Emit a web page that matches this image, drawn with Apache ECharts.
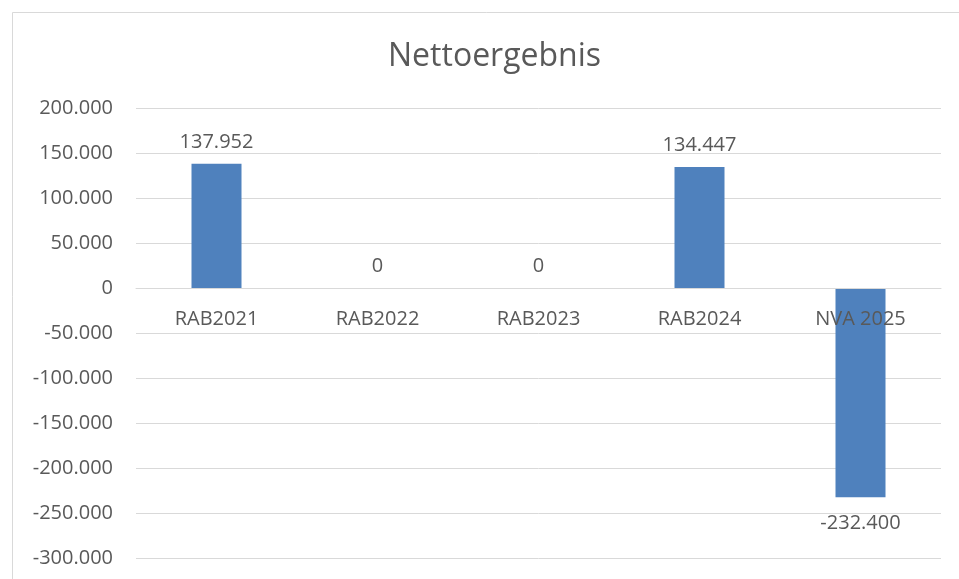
<!DOCTYPE html>
<html>
<head>
<meta charset="utf-8">
<script src="https://cdn.jsdelivr.net/npm/echarts@6/dist/echarts.min.js"></script>
<style>html,body{margin:0;padding:0;background:#fff}#c{width:959px;height:579px}</style>
</head>
<body>
<div id="c"></div>
<script>
var categories = ['RAB2021', 'RAB2022', 'RAB2023', 'RAB2024', 'NVA 2025'];
var values = [137952, 0, 0, 134447, -232400];
var yTicks = { min: -300000, max: 200000, interval: 50000 };

function fmt(v) {
  var s = Math.abs(Math.round(v)).toString().replace(/\B(?=(\d{3})+(?!\d))/g, '.');
  return (v < 0 ? '-' : '') + s;
}

var FONT = 'Open Sans';
var TXT = '#595959';
var GRID_TOP = 108, GRID_BOTTOM = 21, H = 579;
var gridH = H - GRID_TOP - GRID_BOTTOM;
var zeroOffset = -(0 - yTicks.min) / (yTicks.max - yTicks.min) * gridH;

var chart = echarts.init(document.getElementById('c'), null, { renderer: 'canvas' });
chart.setOption({
  animation: false,
  backgroundColor: '#fff',
  textStyle: { fontFamily: FONT },
  graphic: [{
    type: 'rect', left: 10, top: 10,
    shape: { x: 0, y: 0, width: 960, height: 580 },
    style: { fill: 'none', stroke: '#d9d9d9', lineWidth: 1 }
  }],
  title: {
    text: 'Nettoergebnis', left: 383, top: 36,
    textStyle: { fontFamily: FONT, fontSize: 32, fontWeight: 'normal', color: TXT }
  },
  grid: { left: 136, right: 18, top: GRID_TOP, bottom: GRID_BOTTOM, containLabel: false, outerBoundsMode: 'none' },
  xAxis: {
    type: 'category', data: categories, z: 10, position: 'bottom', offset: zeroOffset,
    axisLine: { show: true, onZero: false, lineStyle: { color: '#d9d9d9', width: 1 } },
    axisTick: { show: false },
    axisLabel: { margin: 21, fontSize: 20, color: TXT, fontFamily: FONT }
  },
  yAxis: {
    type: 'value', min: yTicks.min, max: yTicks.max, interval: yTicks.interval,
    axisLine: { show: false }, axisTick: { show: false },
    splitLine: { lineStyle: { color: '#d9d9d9', width: 1 } },
    axisLabel: { margin: 23, fontSize: 20, color: TXT, fontFamily: FONT, formatter: fmt }
  },
  series: [{
    type: 'bar', barWidth: 50,
    itemStyle: { color: '#4f81bd' },
    data: values.map(function (v) {
      return { value: v, label: v < 0 ? { position: 'bottom', distance: 16 } : { position: 'top', distance: 12 } };
    }),
    label: {
      show: true, fontSize: 20, color: TXT, fontFamily: FONT,
      formatter: function (p) { return fmt(p.value); }
    }
  }]
});
</script>
</body>
</html>
